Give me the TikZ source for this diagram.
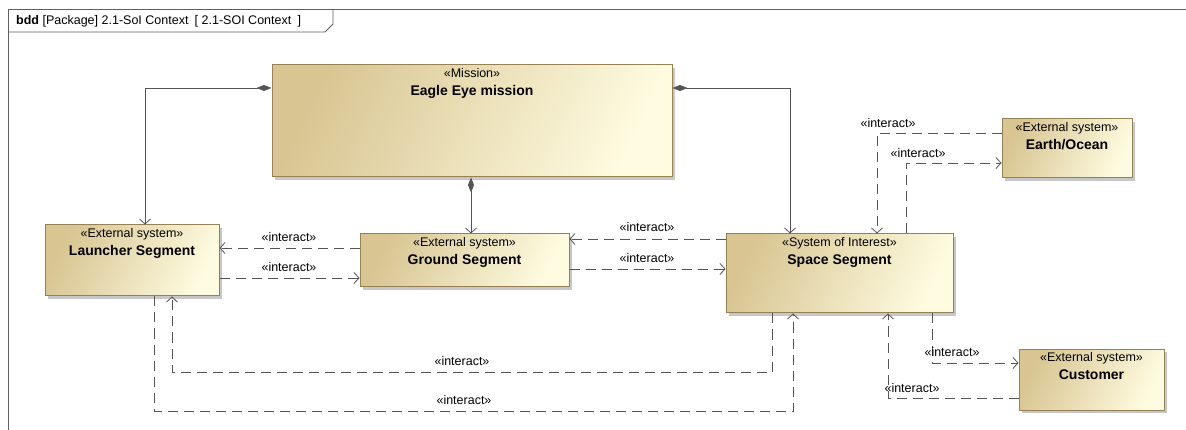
\documentclass[tikz,border=0pt]{standalone}
\usepackage{fontspec}
\setmainfont{Liberation Sans}
\usetikzlibrary{calc}
\usetikzlibrary{positioning}
\usetikzlibrary{arrows.meta}
\usetikzlibrary{shadows}
\definecolor{boxdark}{RGB}{216,197,146}
\definecolor{boxlight}{RGB}{254,251,224}
\definecolor{boxedge}{RGB}{150,128,86}
\definecolor{wire}{RGB}{85,85,85}
\definecolor{framegrey}{RGB}{95,95,95}

\begin{document}
\begin{tikzpicture}[%
  x=1pt, y=-1pt,
  >={Straight Barb[length=5pt,width=11pt]},
  block/.style={draw=boxedge, line width=1pt, left color=boxdark, right color=boxlight,
    shading angle=65, inner sep=0pt,
    drop shadow={shadow xshift=3pt, shadow yshift=-3pt, fill=black!40, opacity=0.55}},
  caption/.style={anchor=north, align=center, inner sep=4pt,
    font=\fontsize{12.5}{18}\selectfont},
  tag/.style={inner sep=0pt, font=\fontsize{12.5}{15}\selectfont},
  comp/.style={draw=wire, line width=0.8pt, {Diamond[length=15pt,width=6pt,fill=wire]}->},
  flow/.style={draw=wire, line width=0.8pt, dash pattern=on 10pt off 6pt, ->},
]

  \useasboundingbox (0,0) rectangle (1186,430);

  \draw[framegrey, line width=0.8pt] (8,430) -- (8,9) -- (1186,9);
  \draw[framegrey, line width=0.8pt] (8,32) -- (325,32) -- (333,24) -- (333,9);
  \node[tag, anchor=west] (title) at (16,21)
    {\textbf{bdd} [Package] 2.1-SoI Context\enspace[ 2.1-SOI Context\enspace]};

  \node[block, minimum width=400, minimum height=112,
    label={[caption]north:«Mission»\\{\fontsize{14}{18}\selectfont\bfseries Eagle Eye mission}}]
    (mission) at (472,121) {};
  \node[block, minimum width=174, minimum height=71,
    label={[caption]north:«External system»\\{\fontsize{14}{18}\selectfont\bfseries Launcher Segment}}]
    (launcher) at (132,260.5) {};
  \node[block, minimum width=209, minimum height=53,
    label={[caption]north:«External system»\\{\fontsize{14}{18}\selectfont\bfseries Ground Segment}}]
    (ground) at (464.5,260.5) {};
  \node[block, minimum width=227, minimum height=79,
    label={[caption]north:«System of Interest»\\{\fontsize{14}{18}\selectfont\bfseries Space Segment}}]
    (space) at (839.5,273.5) {};
  \node[block, minimum width=130, minimum height=59,
    label={[caption]north:«External system»\\{\fontsize{14}{18}\selectfont\bfseries Earth/Ocean}}]
    (earth) at (1067,148.5) {};
  \node[block, minimum width=145, minimum height=61,
    label={[caption]north:«External system»\\{\fontsize{14}{18}\selectfont\bfseries Customer}}]
    (customer) at (1091.5,379.5) {};

  \draw[comp] (mission.west |- 0,88) -| (launcher.north -| 145,0);
  \draw[comp] (mission.south -| 471,0) -- (ground.north -| 471,0);
  \draw[comp] (mission.east |- 0,88) -| (space.north -| 790,0);

  \draw[flow] (ground.west |- 0,248) -- (launcher.east |- 0,248);
  \draw[flow] (launcher.east |- 0,278) -- (ground.west |- 0,278);
  \draw[flow] (space.west |- 0,239) -- (ground.east |- 0,239);
  \draw[flow] (ground.east |- 0,269) -- (space.west |- 0,269);
  \draw[flow] (space.south -| 772,0) -- (772,372) -- (172,372) -- (launcher.south -| 172,0);
  \draw[flow] (launcher.south -| 154,0) -- (154,411) -- (793,411) -- (space.south -| 793,0);
  \draw[flow] (space.north -| 906,0) |- (earth.west |- 0,163);
  \draw[flow] (earth.west |- 0,133) -| (space.north -| 877,0);
  \draw[flow] (space.south -| 932,0) |- (customer.west |- 0,363);
  \draw[flow] (customer.west |- 0,398) -| (space.south -| 888,0);

  \node[tag] (t1) at (289,237) {«interact»};
  \node[tag] (t2) at (289,267) {«interact»};
  \node[tag] (t3) at (647,227) {«interact»};
  \node[tag] (t4) at (647,258) {«interact»};
  \node[tag] (t5) at (462,361) {«interact»};
  \node[tag] (t6) at (464,400) {«interact»};
  \node[tag] (t7) at (918,153) {«interact»};
  \node[tag] (t8) at (888,123) {«interact»};
  \node[tag] (t9) at (952,352) {«interact»};
  \node[tag] (t10) at (912,388) {«interact»};

\end{tikzpicture}
\end{document}
